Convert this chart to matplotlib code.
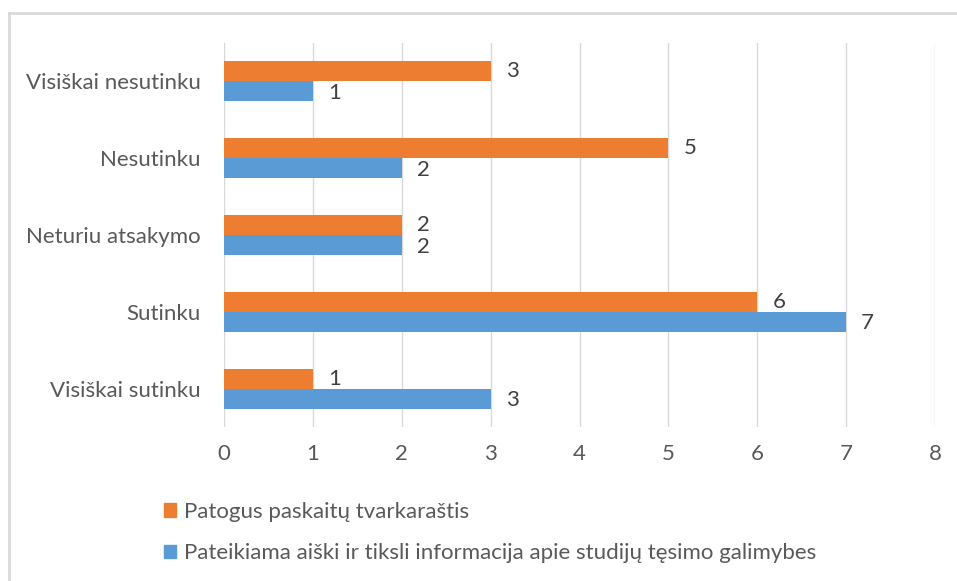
import matplotlib
matplotlib.use("Agg")
import matplotlib.pyplot as plt
from matplotlib.lines import Line2D
from matplotlib.patches import Patch
import numpy as np

categories = ["Visiškai sutinku", "Sutinku", "Neturiu atsakymo", "Nesutinku", "Visiškai nesutinku"]
series_orange = [1, 6, 2, 5, 3]
series_blue = [3, 7, 2, 2, 1]
name_orange = "Patogus paskaitų tvarkaraštis"
name_blue = "Pateikiama aiški ir tiksli informacija apie studijų tęsimo galimybes"
xticks = [0, 1, 2, 3, 4, 5, 6, 7, 8]

plt.rcParams['font.family'] = ['Lato', 'DejaVu Sans']
W, H = 957, 581
fig = plt.figure(figsize=(W/100, H/100), dpi=100)

ax_l, ax_r, ax_t, ax_b = 224, 935, 43, 427
ax = fig.add_axes([ax_l/W, 1-ax_b/H, (ax_r-ax_l)/W, (ax_b-ax_t)/H])

c_orange = "#ED7D31"
c_blue = "#5B9BD5"
txt = "#595959"
fs = 16

y = np.arange(len(categories))
bh = 0.26
ax.barh(y + bh/2, series_orange, height=bh, color=c_orange, zorder=3)
ax.barh(y - bh/2, series_blue, height=bh, color=c_blue, zorder=3)

for yi, v in zip(y, series_orange):
    ax.text(v + 0.17, yi + bh/2, str(v), va='center', ha='left', fontsize=fs, color="#404040")
for yi, v in zip(y, series_blue):
    ax.text(v + 0.17, yi - bh/2 - 0.02, str(v), va='center', ha='left', fontsize=fs, color="#404040")

ax.set_xlim(0, 8)
ax.set_ylim(-0.5, len(categories) - 0.5)
ax.set_xticks(xticks)
ax.set_xticklabels([str(t) for t in xticks])
ax.set_yticks(y)
ax.set_yticklabels(categories)
ax.tick_params(axis='both', length=0, labelsize=fs, colors=txt)
ax.tick_params(axis='x', pad=12)
ax.tick_params(axis='y', pad=17)
ax.grid(axis='x', color="#D9D9D9", linewidth=1, zorder=0)
for s in ax.spines.values():
    s.set_visible(False)

handles = [Patch(color=c_orange), Patch(color=c_blue)]
leg = fig.legend(handles, [name_orange, name_blue], loc='upper left',
                 bbox_to_anchor=(144/W, 1-482/H), frameon=False, fontsize=fs,
                 handlelength=0.55, handleheight=0.55, handletextpad=0.35,
                 labelspacing=0.95, labelcolor=txt)

# outer chart border (only top & left visible in cropped screenshot)
fig.add_artist(Line2D([9/W, 1], [1-13/H, 1-13/H], color="#D9D9D9", linewidth=2))
fig.add_artist(Line2D([9/W, 9/W], [0, 1-13/H], color="#D9D9D9", linewidth=2))

fig.savefig("out.png", dpi=100)
